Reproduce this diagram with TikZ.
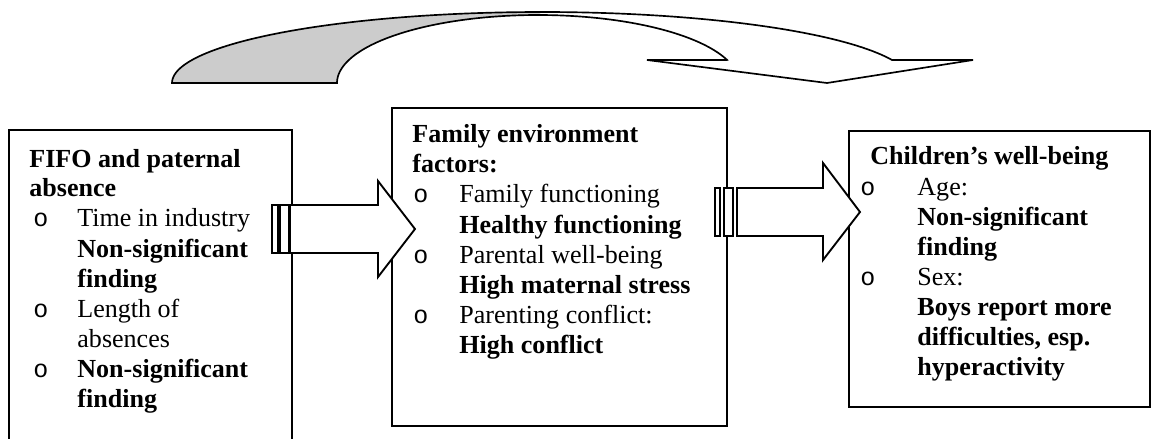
\documentclass[tikz,border=0pt]{standalone}
\usepackage{fontspec}
\setmainfont{Liberation Serif}
\newfontfamily\bulfont{Liberation Mono}
\begin{document}
\begin{tikzpicture}[x=0.48pt,y=-0.48pt,
  tx/.style={anchor=base west,inner sep=0pt,font=\fontsize{12.5pt}{14.4pt}\selectfont},
  bul/.style={anchor=base west,inner sep=0pt,font=\fontsize{12pt}{14.4pt}\bulfont},
  boxline/.style={draw=black,line width=0.9pt},
  blockarrow/.style={draw=black,fill=white,line width=0.9pt,line join=miter},
  curvearrow/.style={draw=black,line width=0.8pt,line join=miter}]
\useasboundingbox (0,0) rectangle (1152,439);

% ---------- curved arrow on top ----------
\fill[gray!40] plot[domain=180:90,samples=50] ({542+370*cos(\x)},{83-71*sin(\x)})
   -- plot[domain=90:180,samples=50] ({538+201*cos(\x)},{83-68*sin(\x)}) -- cycle;
\draw[curvearrow] plot[domain=180:18.9,samples=100] ({542+370*cos(\x)},{83-71*sin(\x)})
   -- (973,60) -- (827,83) -- (647,60) -- (727,60)
   -- plot[domain=19.8:180,samples=100] ({538+201*cos(\x)},{83-68*sin(\x)}) -- cycle;

% ---------- boxes ----------
\coordinate (lbTL) at (9,130);
\coordinate (lbTR) at (292,130);
\draw[boxline] (9,439) -- (lbTL) -- (lbTR) -- (292,439);
\draw[boxline] (392,108) rectangle (727,426);
\draw[boxline] (849,131) rectangle (1150,407);

% ---------- block arrows ----------
\draw[blockarrow] (272,205) rectangle (278,253);
\draw[blockarrow] (280,205) rectangle (289,253);
\draw[blockarrow] (290,205) -- (378,205) -- (378,181) -- (415,229) -- (378,277) -- (378,253) -- (290,253) -- cycle;

\draw[blockarrow] (715,188) rectangle (720,236);
\draw[blockarrow] (724,188) rectangle (733,236);
\draw[blockarrow] (737,188) -- (823,188) -- (823,163) -- (860,212) -- (823,260) -- (823,236) -- (737,236) -- cycle;

% ---------- left box text ----------
\node[tx] (a1) at (29,167) {\textbf{FIFO and paternal}};
\node[tx] (a2) at (29,197) {\textbf{absence}};
\node[bul] (ab1) at (33,227) {o};
\node[tx] (a3) at (77,227) {Time in industry};
\node[tx] (a4) at (77,257) {\textbf{Non-significant}};
\node[tx] (a5) at (77,287) {\textbf{finding}};
\node[bul] (ab2) at (33,317) {o};
\node[tx] (a6) at (77,317) {Length of};
\node[tx] (a7) at (77,347) {absences};
\node[bul] (ab3) at (33,377) {o};
\node[tx] (a8) at (77,377) {\textbf{Non-significant}};
\node[tx] (a9) at (77,407) {\textbf{finding}};

% ---------- middle box text ----------
\node[tx] (m1) at (412,143) {\textbf{Family environment}};
\node[tx] (m2) at (412,173) {\textbf{factors:}};
\node[bul] (mb1) at (413,203) {o};
\node[tx] (m3) at (459,203) {Family functioning};
\node[tx] (m4) at (459,233) {\textbf{Healthy functioning}};
\node[bul] (mb2) at (413,263) {o};
\node[tx] (m5) at (459,263) {Parental well-being};
\node[tx] (m6) at (459,293) {\textbf{High maternal stress}};
\node[bul] (mb3) at (413,323) {o};
\node[tx] (m7) at (459,323) {Parenting conflict:};
\node[tx] (m8) at (459,353) {\textbf{High conflict}};

% ---------- right box text ----------
\node[tx] (r1) at (870,165) {\textbf{Children’s well-being}};
\node[bul] (rb1) at (860,195) {o};
\node[tx] (r2) at (917,195) {Age:};
\node[tx] (r3) at (917,225) {\textbf{Non-significant}};
\node[tx] (r4) at (917,255) {\textbf{finding}};
\node[bul] (rb2) at (860,285) {o};
\node[tx] (r5) at (917,285) {Sex:};
\node[tx] (r6) at (917,315) {\textbf{Boys report more}};
\node[tx] (r7) at (917,345) {\textbf{difficulties, esp.}};
\node[tx] (r8) at (917,375) {\textbf{hyperactivity}};
\end{tikzpicture}
\end{document}
